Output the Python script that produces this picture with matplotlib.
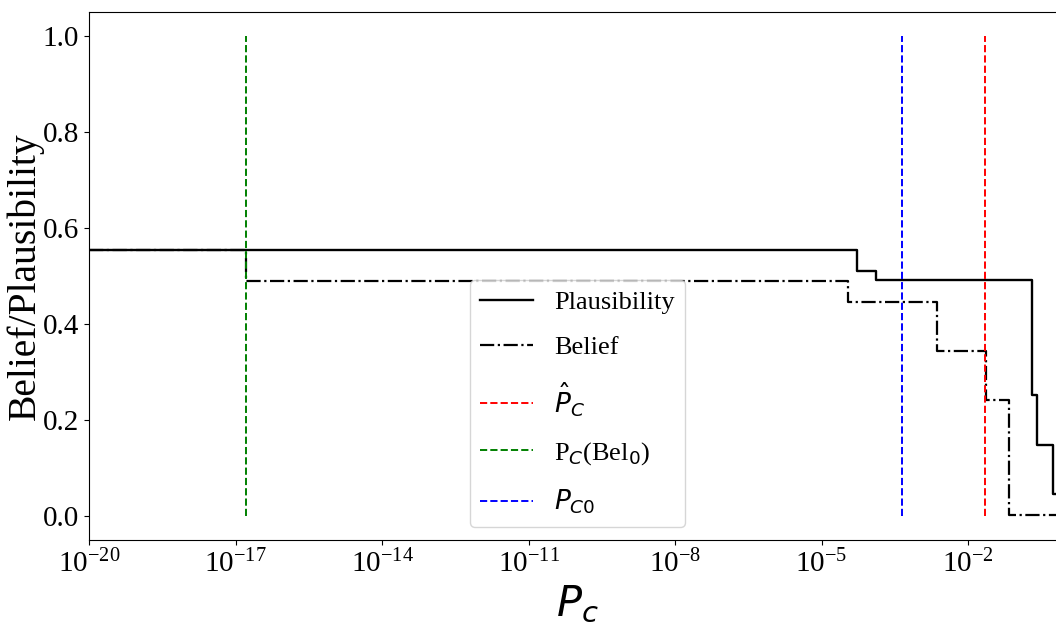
import numpy as np
import matplotlib
matplotlib.use('Agg')
import matplotlib.pyplot as plt
import matplotlib.ticker as ticker

plt.rcParams['font.family'] = ['Liberation Serif', 'DejaVu Sans']
plt.rcParams['mathtext.fontset'] = 'dejavusans'

# step curves (x = left edge of each level, step 'post')
plaus_x = [1e-20, 10**-4.27, 10**-3.88, 10**-0.69, 10**-0.60, 10**-0.26, 1.0]
plaus_y = [0.555, 0.510, 0.491, 0.253, 0.148, 0.046, 0.046]

bel_x = [1e-20, 10**-16.78, 10**-4.46, 10**-2.64, 10**-1.64, 10**-1.16, 1.0]
bel_y = [0.555, 0.490, 0.446, 0.343, 0.241, 0.002, 0.002]

pc_hat = 10**-1.65     # red
pc_bel0 = 10**-16.78   # green
pc0 = 10**-3.35        # blue

fig = plt.figure(figsize=(10.56, 6.29), dpi=100)
ax = fig.add_axes([0.0843, 0.1415, 0.925, 0.8394])

ax.step(plaus_x, plaus_y, where='post', color='black', linestyle='-', linewidth=1.7, label='Plausibility')
ax.step(bel_x, bel_y, where='post', color='black', linestyle='-.', linewidth=1.6, label='Belief')
ax.vlines(pc_hat, 0, 1, colors='red', linestyles='--', linewidth=1.4, label=r'$\hat{P}_C$')
ax.vlines(pc_bel0, 0, 1, colors='green', linestyles='--', linewidth=1.4, label=r'P$_C$(Bel$_0$)')
ax.vlines(pc0, 0, 1, colors='blue', linestyles='--', linewidth=1.4, label=r'$P_{C0}$')

ax.set_xscale('log')
ax.set_xlim(1e-20, 1)
ax.set_ylim(-0.05, 1.05)
ax.set_xticks([1e-20, 1e-17, 1e-14, 1e-11, 1e-8, 1e-5, 1e-2])
ax.xaxis.set_minor_locator(ticker.NullLocator())
ax.set_yticks([0.0, 0.2, 0.4, 0.6, 0.8, 1.0])
ax.tick_params(labelsize=21)

ax.set_xlabel('$P_c$', fontsize=30)
ax.set_ylabel('Belief/Plausibility', fontsize=28.5, labelpad=-1)
ax.legend(loc='lower center', fontsize=19, labelspacing=0.8)

plt.savefig('out.png', dpi=100)
